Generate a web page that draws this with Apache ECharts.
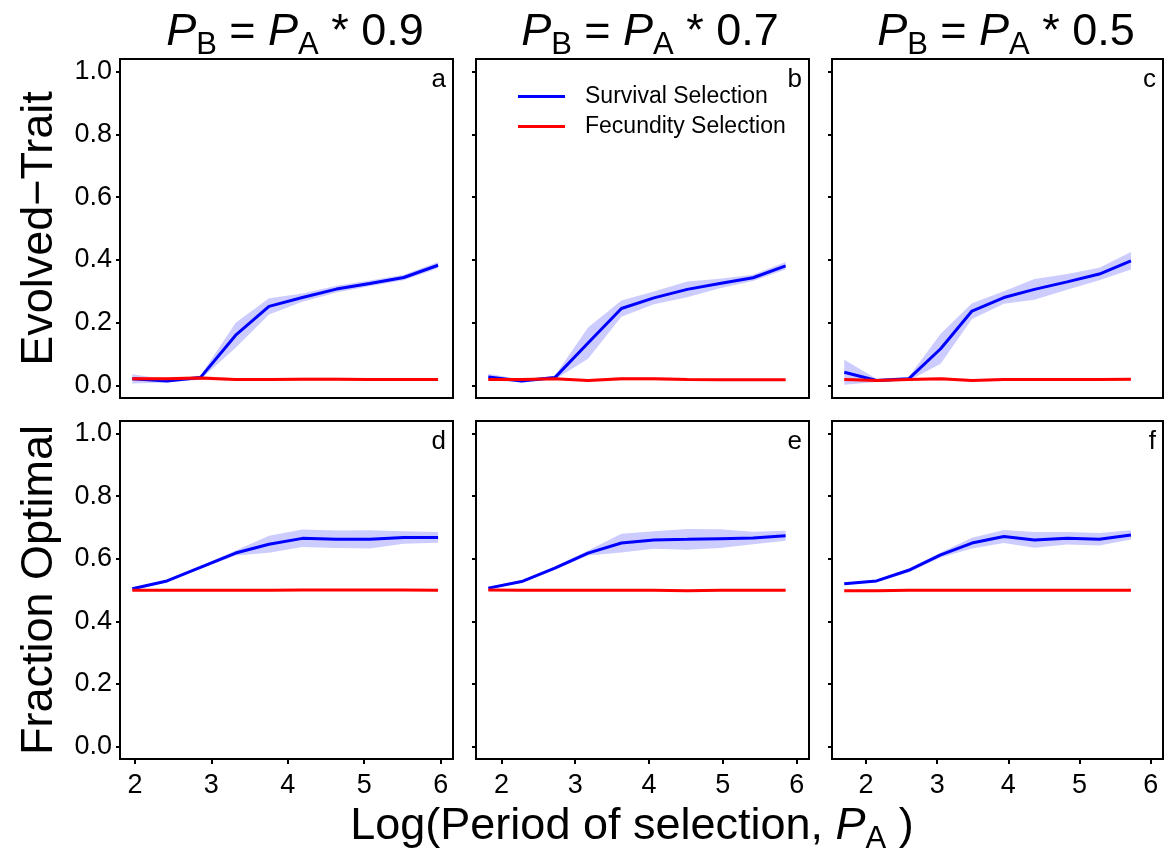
<!DOCTYPE html>
<html><head><meta charset="utf-8">
<script src="https://cdn.jsdelivr.net/npm/echarts@6/dist/echarts.min.js"></script>
<style>html,body{margin:0;padding:0;background:#fff}#c{width:1164px;height:850px}</style>
</head><body><div id="c"></div>
<script>
// ---------- data (x = log period of selection) ----------
const xA = [1.966, 2.419, 2.856, 3.318, 3.754, 4.191, 4.636, 5.072, 5.517, 5.966];
const xB = [1.823, 2.274, 2.724, 3.174, 3.626, 4.066, 4.517, 4.958, 5.409, 5.850];
const xC = [1.695, 2.148, 2.600, 3.049, 3.489, 3.937, 4.366, 4.825, 5.278, 5.722];

// Evolved-Trait (top row)
const survA    = [0.021, 0.014, 0.025, 0.160, 0.252, 0.280, 0.307, 0.325, 0.344, 0.383];
const survAErr = [0.015, 0.005, 0.006, 0.040, 0.026, 0.013, 0.011, 0.009, 0.009, 0.010];
const fecA     = [0.021, 0.021, 0.024, 0.019, 0.019, 0.020, 0.020, 0.019, 0.019, 0.019];
const fecAErr  = [0.006, 0.005, 0.007, 0.004, 0.004, 0.005, 0.005, 0.004, 0.004, 0.004];

const survB    = [0.027, 0.014, 0.025, 0.135, 0.245, 0.279, 0.306, 0.325, 0.343, 0.381];
const survBErr = [0.010, 0.005, 0.006, 0.050, 0.026, 0.020, 0.025, 0.015, 0.010, 0.012];
const fecB     = [0.019, 0.019, 0.021, 0.016, 0.021, 0.021, 0.019, 0.018, 0.018, 0.018];
const fecBErr  = [0.004, 0.004, 0.004, 0.004, 0.006, 0.006, 0.005, 0.004, 0.004, 0.004];

const survC    = [0.042, 0.016, 0.021, 0.117, 0.237, 0.280, 0.306, 0.330, 0.355, 0.397];
const survCErr = [0.040, 0.005, 0.006, 0.048, 0.025, 0.020, 0.033, 0.025, 0.020, 0.028];
const fecC     = [0.019, 0.016, 0.019, 0.021, 0.016, 0.019, 0.019, 0.019, 0.019, 0.020];
const fecCErr  = [0.004, 0.004, 0.004, 0.005, 0.004, 0.005, 0.004, 0.004, 0.004, 0.004];

// Fraction Optimal (bottom row)
const survD    = [0.504, 0.529, 0.572, 0.618, 0.646, 0.665, 0.662, 0.662, 0.668, 0.668];
const survDErr = [0.004, 0.004, 0.005, 0.008, 0.027, 0.028, 0.028, 0.029, 0.020, 0.017];
const fecD     = [0.499, 0.499, 0.499, 0.499, 0.499, 0.500, 0.500, 0.500, 0.500, 0.499];
const fecDErr  = [0.003, 0.003, 0.003, 0.003, 0.003, 0.003, 0.003, 0.003, 0.003, 0.003];

const survE    = [0.506, 0.527, 0.570, 0.618, 0.650, 0.660, 0.662, 0.664, 0.666, 0.673];
const survEErr = [0.004, 0.004, 0.005, 0.008, 0.030, 0.028, 0.033, 0.030, 0.020, 0.016];
const fecE     = [0.500, 0.499, 0.499, 0.499, 0.499, 0.499, 0.498, 0.499, 0.499, 0.499];
const fecEErr  = [0.003, 0.003, 0.003, 0.003, 0.003, 0.003, 0.003, 0.003, 0.003, 0.003];

const survF    = [0.520, 0.529, 0.563, 0.612, 0.650, 0.671, 0.660, 0.665, 0.662, 0.676];
const survFErr = [0.004, 0.004, 0.006, 0.008, 0.017, 0.021, 0.025, 0.020, 0.020, 0.015];
const fecF     = [0.498, 0.498, 0.499, 0.499, 0.499, 0.499, 0.499, 0.499, 0.499, 0.499];
const fecFErr  = [0.003, 0.003, 0.003, 0.003, 0.003, 0.003, 0.003, 0.003, 0.003, 0.003];

const xTicks = [2, 3, 4, 5, 6];
const yTicks = [0, 0.2, 0.4, 0.6, 0.8, 1.0];
const panelLetters = ['a', 'b', 'c', 'd', 'e', 'f'];
const ratios = ['0.9', '0.7', '0.5'];
const seriesNames = ['Survival Selection', 'Fecundity Selection'];
const rowTitles = ['Evolved\u2212Trait', 'Fraction Optimal'];

// ---------- layout ----------
const FONT = '"Liberation Sans", Arial, Helvetica, sans-serif';
const colLeft = [120, 476, 832];
const colWidth = [333, 333, 331];
const rowTop = [59, 421];
const rowHeight = [339, 338];
const BLUE = '#0000ff', RED = '#ff0000';
const BLUE_BAND = 'rgba(0,0,255,0.2)', RED_BAND = 'rgba(255,0,0,0.18)';

const panels = [
  {x: xA, s: survA, se: survAErr, f: fecA, fe: fecAErr},
  {x: xB, s: survB, se: survBErr, f: fecB, fe: fecBErr},
  {x: xC, s: survC, se: survCErr, f: fecC, fe: fecCErr},
  {x: xA, s: survD, se: survDErr, f: fecD, fe: fecDErr},
  {x: xB, s: survE, se: survEErr, f: fecE, fe: fecEErr},
  {x: xC, s: survF, se: survFErr, f: fecF, fe: fecFErr}
];

const grids = [], xAxes = [], yAxes = [], series = [], graphics = [];

function band(gi, xs, mid, err, color) {
  return {
    type: 'custom', xAxisIndex: gi, yAxisIndex: gi, silent: true, z: 1, clip: true,
    data: [[xs[0], mid[0]]],
    renderItem: function (params, api) {
      const pts = [];
      for (let i = 0; i < xs.length; i++) pts.push(api.coord([xs[i], mid[i] + err[i]]));
      for (let i = xs.length - 1; i >= 0; i--) pts.push(api.coord([xs[i], mid[i] - err[i]]));
      return {type: 'polygon', shape: {points: pts}, style: {fill: color}};
    }
  };
}
function line(gi, name, xs, ys, color) {
  return {
    type: 'line', name: name, xAxisIndex: gi, yAxisIndex: gi, z: 3,
    data: xs.map((x, i) => [x, ys[i]]), symbol: 'none', showSymbol: false,
    lineStyle: {color: color, width: 3}, itemStyle: {color: color},
    emphasis: {disabled: true}, animation: false
  };
}

panels.forEach((p, gi) => {
  const row = Math.floor(gi / 3), col = gi % 3;
  grids.push({left: colLeft[col], top: rowTop[row], width: colWidth[col], height: rowHeight[row],
    show: true, borderColor: '#000', borderWidth: 2, backgroundColor: 'transparent', containLabel: false});
  const xmin = p.x[0], xmaxData = 6;
  const pad = 0.04 * (xmaxData - xmin);
  xAxes.push({
    type: 'value', gridIndex: gi, min: xmin - pad, max: xmaxData + pad, position: 'bottom',
    axisLine: {show: false, onZero: false}, splitLine: {show: false},
    axisTick: {show: row === 1, inside: false, length: 5, lineStyle: {color: '#000', width: 2}, customValues: xTicks},
    axisLabel: {show: row === 1, customValues: xTicks, fontSize: 27, color: '#000', fontFamily: FONT, margin: 13}
  });
  yAxes.push({
    type: 'value', gridIndex: gi, min: -0.04, max: 1.04, position: 'left',
    axisLine: {show: false, onZero: false}, splitLine: {show: false},
    axisTick: {show: true, inside: false, length: 4, lineStyle: {color: '#000', width: 2}, customValues: yTicks},
    axisLabel: {show: col === 0, customValues: yTicks, fontSize: 27, color: '#000', fontFamily: FONT, margin: 8,
      formatter: v => v.toFixed(1)}
  });
  series.push(band(gi, p.x, p.s, p.se, BLUE_BAND));
  series.push(line(gi, seriesNames[0], p.x, p.s, BLUE));
  series.push(band(gi, p.x, p.f, p.fe, RED_BAND));
  series.push(line(gi, seriesNames[1], p.x, p.f, RED));

  // panel letter
  graphics.push({type: 'text', x: colLeft[col] + colWidth[col] - 7, y: rowTop[row] + 30 - 0.3465 * 26,
    silent: true,
    style: {text: panelLetters[gi], fontSize: 26, fontFamily: FONT, fill: '#000', align: 'right', verticalAlign: 'middle'}});
});

// ---------- math-style text helper ----------
const mctx = document.createElement('canvas').getContext('2d');
function measure(t, size, italic) {
  mctx.font = (italic ? 'italic ' : '') + size + 'px ' + FONT;
  return mctx.measureText(t).width;
}
function mathLabel(pieces, cx, baseline, size) {
  const subSize = Math.round(size * 0.68);
  const items = pieces.map(([t, k]) => {
    const sz = k === 's' ? subSize : size;
    const it = k === 'i';
    return {t, sz, it, w: measure(t, sz, it), dy: k === 's' ? size * 0.18 : 0};
  });
  const total = items.reduce((a, b) => a + b.w, 0);
  let x = cx - total / 2;
  items.forEach(it => {
    graphics.push({type: 'text', x: x, y: baseline + it.dy - 0.3465 * it.sz, silent: true,
      style: {text: it.t, fontSize: it.sz, fontFamily: FONT, fontStyle: it.it ? 'italic' : 'normal',
        fill: '#000', align: 'left', verticalAlign: 'middle'}});
    x += it.w;
  });
}

// column titles
const titleCx = [295, 650, 1006];
ratios.forEach((r, i) => {
  mathLabel([['P', 'i'], ['B', 's'], [' = ', 'n'], ['P', 'i'], ['A', 's'], [' * ' + r, 'n']], titleCx[i], 48, 45);
});
// x-axis title
mathLabel([['Log(Period of selection, ', 'n'], ['P', 'i'], ['A', 's'], [' )', 'n']], 632, 842, 45);

// row titles
rowTitles.forEach((t, r) => {
  graphics.push({type: 'text', x: 40, y: rowTop[r] + rowHeight[r] / 2, rotation: Math.PI / 2, silent: true,
    style: {text: t, fontSize: 45, fontFamily: FONT, fill: '#000', align: 'center', verticalAlign: 'middle'}});
});

const chart = echarts.init(document.getElementById('c'), null, {renderer: 'canvas'});
chart.setOption({
  animation: false,
  backgroundColor: '#fff',
  grid: grids, xAxis: xAxes, yAxis: yAxes, series: series,
  legend: {
    data: seriesNames, left: 518, top: 85, orient: 'vertical', padding: 0,
    icon: 'rect', itemWidth: 47, itemHeight: 3, itemGap: 7, selectedMode: false,
    textStyle: {fontSize: 23, fontFamily: FONT, color: '#000', padding: [0, 0, 0, 15], lineHeight: 23}
  },
  graphic: graphics
});
</script>
</body></html>
